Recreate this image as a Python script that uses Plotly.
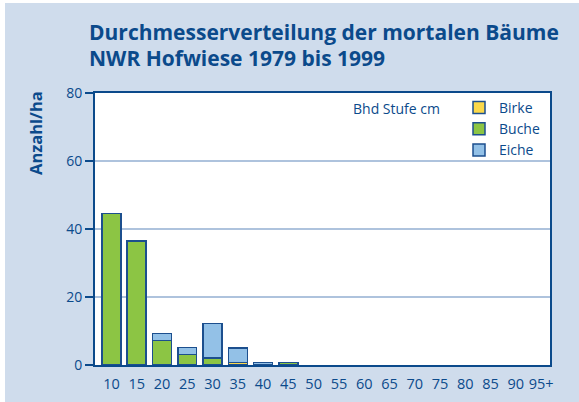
import plotly.graph_objects as go

categories = ["10", "15", "20", "25", "30", "35", "40", "45", "50", "55",
              "60", "65", "70", "75", "80", "85", "90", "95+"]
birke = [None, None, None, None, None, 0.8, None, None, None, None,
         None, None, None, None, None, None, None, None]
buche = [44.5, 36.5, 7.2, 3.1, 2.1, None, None, 0.8, None, None,
         None, None, None, None, None, None, None, None]
eiche = [None, None, 2.0, 2.0, 10.1, 4.2, 0.8, None, None, None,
         None, None, None, None, None, None, None, None]

DARK = "#0b4a8b"
BG = "#cfdcec"
EDGE = "#1c4f8e"
FONT = "Open Sans"

W, H = 579, 402
L, R, T, B = 95, 29, 93, 37
PW, PH = W - L - R, H - T - B

def px_x(p):
    return (p - L) / PW

def px_y(p):
    return (H - B - p) / PH

fig = go.Figure()
for name, vals, col in [("Birke", birke, "#fbd84a"),
                        ("Buche", buche, "#8cc544"),
                        ("Eiche", eiche, "#93c1e7")]:
    fig.add_trace(go.Bar(x=categories, y=vals, name=name,
                         marker=dict(color=col, line=dict(color=EDGE, width=1.5))))

fig.update_layout(
    width=W, height=H,
    margin=dict(l=L, r=R, t=T, b=B, autoexpand=False),
    barmode="stack", bargap=0.25,
    paper_bgcolor=BG, plot_bgcolor="white",
    font=dict(family=FONT, color=DARK, size=14),
    showlegend=True,
    legend=dict(x=px_x(459), y=px_y(92), xanchor="left", yanchor="top",
                bgcolor="rgba(0,0,0,0)", traceorder="normal",
                font=dict(size=14, color=DARK), itemwidth=30,
                tracegroupgap=0),
)
fig.update_yaxes(range=[0, 80], tickvals=[0, 20, 40, 60, 80],
                 showgrid=True, gridcolor="#aec3dd", gridwidth=1.5,
                 ticks="outside", ticklen=8, tickcolor=DARK, tickwidth=1.5,
                 showline=True, linecolor=DARK, linewidth=2, mirror=True,
                 zeroline=False, tickfont=dict(size=14, color=DARK),
                 automargin=False)
fig.update_xaxes(showline=True, linecolor=DARK, linewidth=2, mirror=True,
                 ticks="", tickfont=dict(size=14.5, color=DARK),
                 ticklabelstandoff=5, range=[-0.65, 17.35], automargin=False)

fig.add_annotation(text="<b>Durchmesserverteilung der mortalen Bäume</b>",
                   xref="paper", yref="paper", x=px_x(87), y=px_y(32),
                   xanchor="left", yanchor="middle", showarrow=False,
                   font=dict(size=21, color=DARK, family=FONT))
fig.add_annotation(text="<b>NWR Hofwiese 1979 bis 1999</b>",
                   xref="paper", yref="paper", x=px_x(87), y=px_y(58),
                   xanchor="left", yanchor="middle", showarrow=False,
                   font=dict(size=21, color=DARK, family=FONT))
fig.add_annotation(text="<b>Anzahl/ha</b>", textangle=-90,
                   xref="paper", yref="paper", x=px_x(35), y=px_y(89),
                   xanchor="center", yanchor="top", showarrow=False,
                   font=dict(size=16.5, color=DARK, family=FONT))
fig.add_annotation(text="Bhd Stufe cm",
                   xref="paper", yref="paper", x=px_x(351), y=px_y(108),
                   xanchor="left", yanchor="middle", showarrow=False,
                   font=dict(size=14, color=DARK, family=FONT))

# thin white page border at left and top, as in the reference
fig.add_shape(type="rect", xref="paper", yref="paper",
              x0=px_x(0), x1=px_x(5), y0=px_y(H), y1=px_y(0),
              fillcolor="white", line=dict(width=0), layer="above")
fig.add_shape(type="rect", xref="paper", yref="paper",
              x0=px_x(0), x1=px_x(W), y0=px_y(3), y1=px_y(0),
              fillcolor="white", line=dict(width=0), layer="above")

fig.write_html("out.html", config={"displayModeBar": False},
               post_script="document.body.style.margin='0';document.body.style.padding='0';"
                           "document.body.style.overflow='hidden';"
                           "document.documentElement.style.background='%s';" % BG)
